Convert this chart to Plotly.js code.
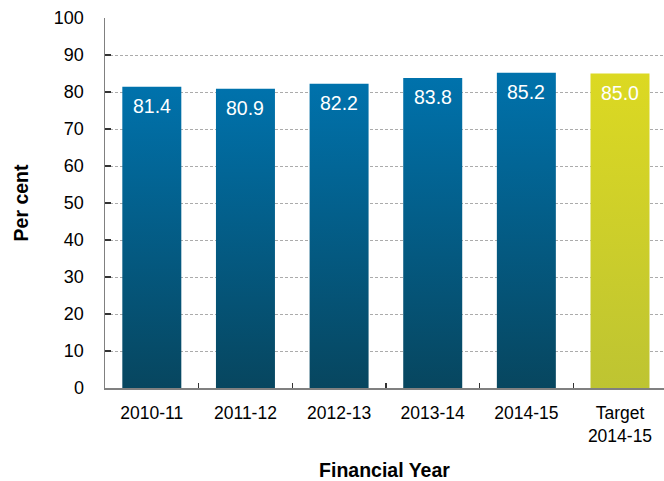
<!DOCTYPE html>
<html>
<head>
<meta charset="utf-8">
<script src="https://cdn.plot.ly/plotly-3.0.1.min.js"></script>
<style>
html,body{margin:0;padding:0;background:#fff;}
#chart{width:664px;height:481px;}
</style>
</head>
<body>
<div id="chart"></div>
<script>
// ---- data ----
const categories = ["2010-11", "2011-12", "2012-13", "2013-14", "2014-15", "Target<br>2014-15"];
const values = [81.4, 80.9, 82.2, 83.8, 85.2, 85.0];
const labels = ["81.4", "80.9", "82.2", "83.8", "85.2", "85.0"];
const yTicks = [0, 10, 20, 30, 40, 50, 60, 70, 80, 90, 100];

// ---- styles ----
const blueTop = "#0072AC", blueBottom = "#07465F";
const yellowTop = "#DCD922", yellowBottom = "#BEC432";
const isTarget = categories.map(c => c.indexOf("Target") === 0);
const barColors = isTarget.map(t => t ? "#CFD02A" : "#005E88");
const FONT = "Liberation Sans, Arial, sans-serif";

const trace = {
  type: "bar",
  x: categories,
  y: values,
  marker: {color: barColors, line: {width: 0}},
  width: 0.63,
  hoverinfo: "x+y"
};

const annotations = categories.map((c, i) => ({
  x: c, y: values[i], xref: "x", yref: "y",
  text: labels[i], showarrow: false,
  yanchor: "middle", yshift: -19,
  font: {family: FONT, size: 19.5, color: "#ffffff"}
}));

const layout = {
  width: 664, height: 481,
  margin: {l: 105, r: 0, t: 18, b: 93},
  paper_bgcolor: "#ffffff", plot_bgcolor: "#ffffff",
  showlegend: false,
  font: {family: FONT, color: "#000000"},
  xaxis: {
    type: "category",
    range: [-0.5, 5.47],
    tickson: "boundaries",
    ticks: "inside", ticklen: 5, tickwidth: 1.3, tickcolor: "#333333",
    showline: true, linecolor: "#808080", linewidth: 2,
    showgrid: false, zeroline: false,
    tickfont: {family: FONT, size: 17.5, color: "#000000"},
    ticklabelstandoff: 8,
    title: {text: "<b>Financial Year</b>", font: {family: FONT, size: 19.5, color: "#000000"}, standoff: 20},
    fixedrange: true
  },
  yaxis: {
    range: [0, 100],
    tickvals: yTicks,
    ticktext: yTicks.map(String),
    ticks: "inside", ticklen: 6, tickwidth: 1.3, tickcolor: "#333333",
    showline: true, linecolor: "#808080", linewidth: 1.5,
    showgrid: true, gridcolor: "#ababab", gridwidth: 1, griddash: "3px,2px",
    zeroline: false,
    tickfont: {family: FONT, size: 18, color: "#000000"},
    ticklabelstandoff: 16,
    title: {text: "<b>Per cent</b>", font: {family: FONT, size: 19.5, color: "#000000"}, standoff: 20},
    fixedrange: true
  },
  annotations: annotations
};

Plotly.newPlot("chart", [trace], layout, {displayModeBar: false, staticPlot: true}).then(gd => {
  const svgNS = "http://www.w3.org/2000/svg";
  const svg = gd.querySelector("svg.main-svg");
  let defs = svg.querySelector("defs");
  if (!defs) { defs = document.createElementNS(svgNS, "defs"); svg.insertBefore(defs, svg.firstChild); }
  function addGrad(id, top, bottom) {
    const g = document.createElementNS(svgNS, "linearGradient");
    g.setAttribute("id", id);
    g.setAttribute("x1", "0"); g.setAttribute("y1", "0");
    g.setAttribute("x2", "0"); g.setAttribute("y2", "1");
    [[0, top], [1, bottom]].forEach(([o, c]) => {
      const s = document.createElementNS(svgNS, "stop");
      s.setAttribute("offset", String(o));
      s.setAttribute("stop-color", c);
      g.appendChild(s);
    });
    defs.appendChild(g);
  }
  addGrad("gradBlue", blueTop, blueBottom);
  addGrad("gradYellow", yellowTop, yellowBottom);
  const paths = gd.querySelectorAll(".barlayer .trace .point path");
  paths.forEach((p, i) => {
    p.style.fill = isTarget[i] ? "url(#gradYellow)" : "url(#gradBlue)";
  });
});
</script>
</body>
</html>
